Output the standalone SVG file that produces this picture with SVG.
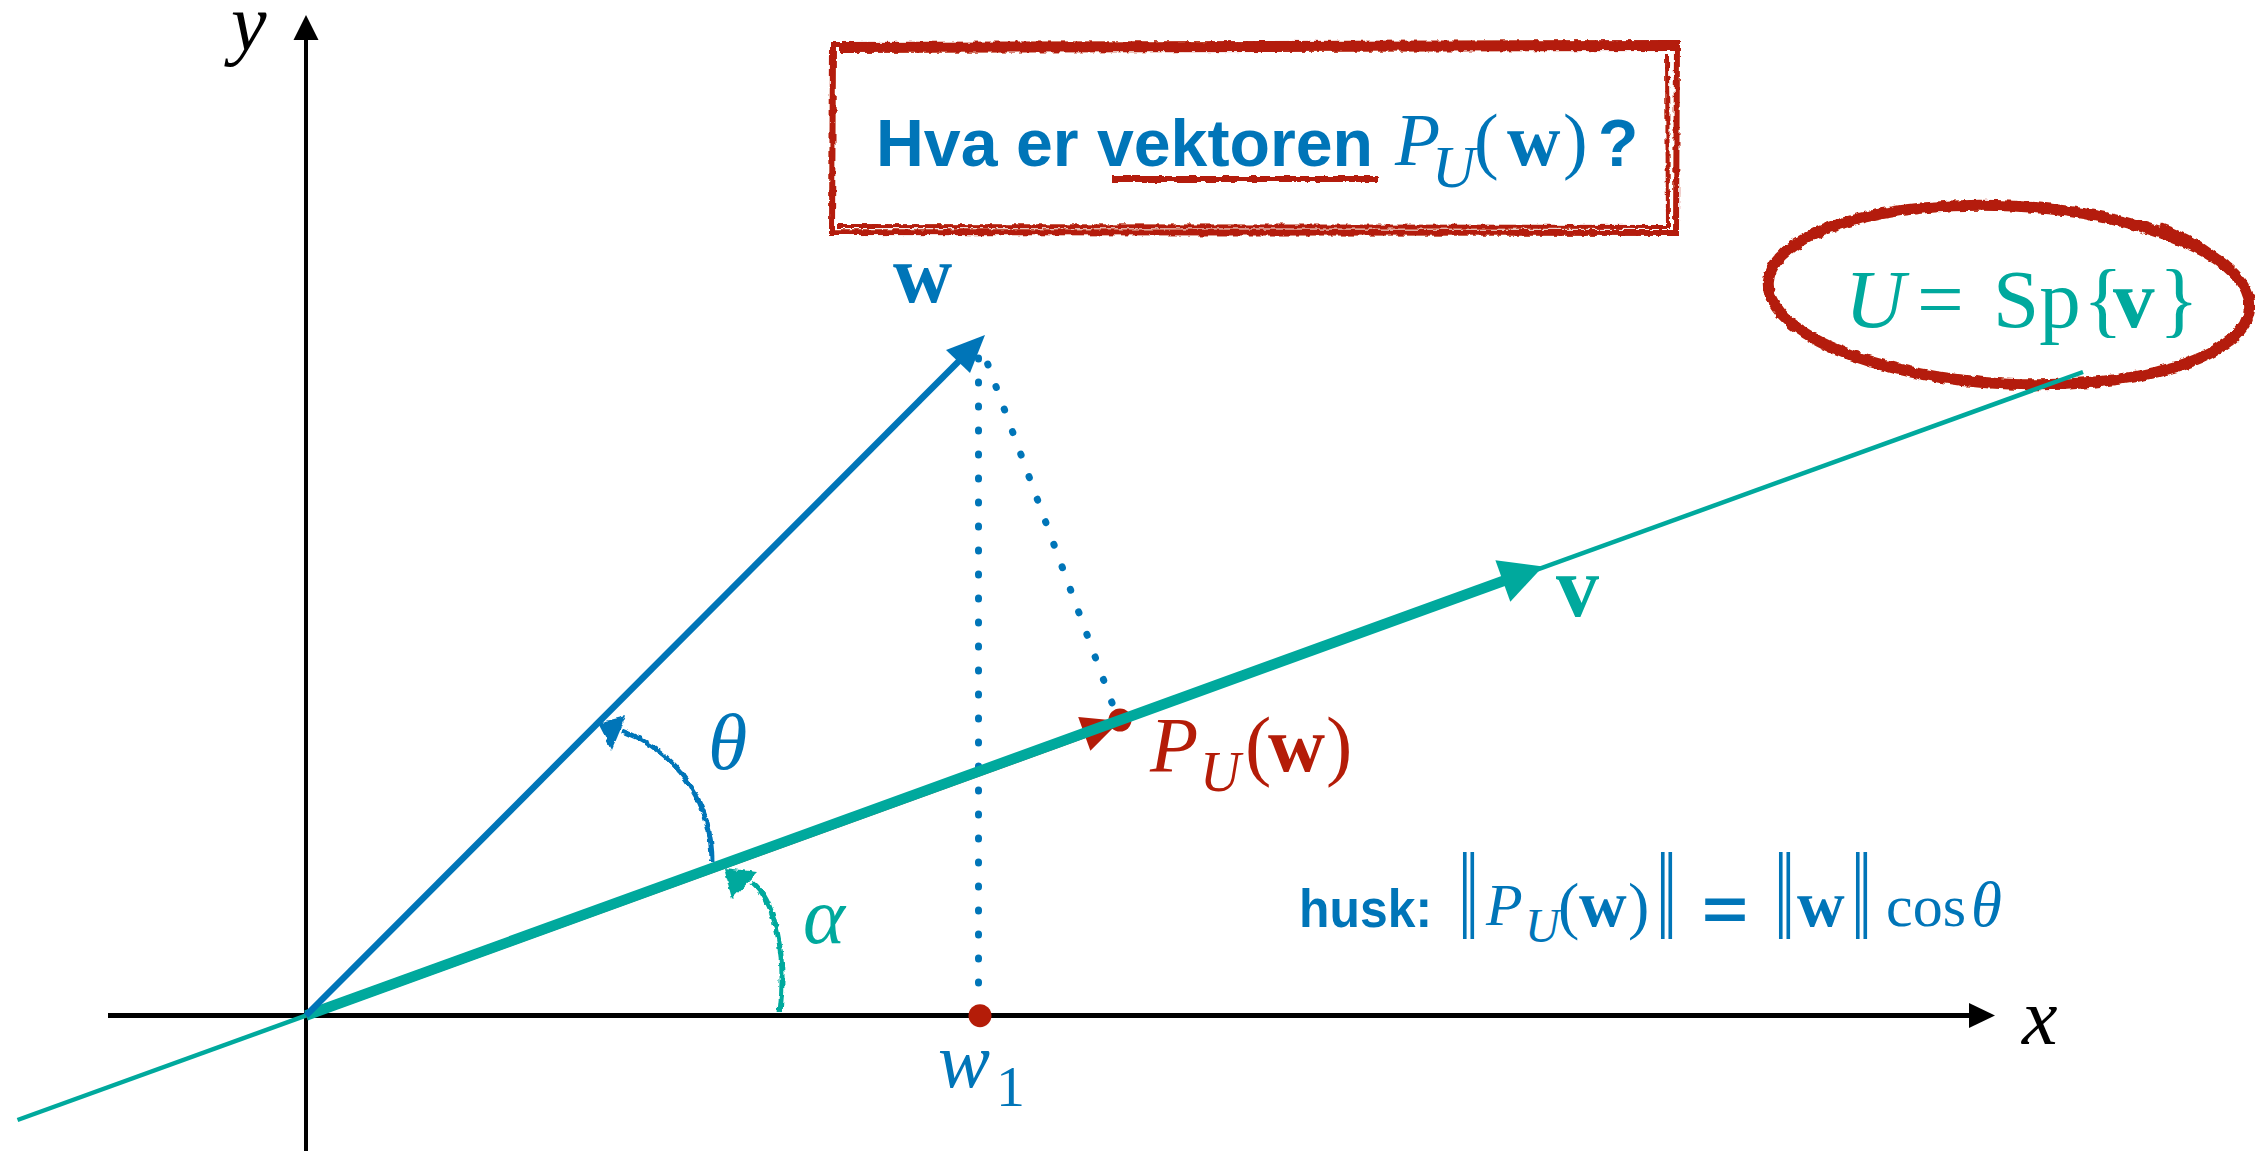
<svg xmlns="http://www.w3.org/2000/svg" width="2255" height="1151" viewBox="0 0 2255 1151">
<defs>
<filter id="rough" x="-10%" y="-10%" width="120%" height="120%">
<feTurbulence type="fractalNoise" baseFrequency="0.15" numOctaves="2" seed="4" result="n"/>
<feDisplacementMap in="SourceGraphic" in2="n" scale="5" xChannelSelector="R" yChannelSelector="G"/>
</filter>
</defs>
<style>
.serif{font-family:"Liberation Serif","Times New Roman","DejaVu Serif",serif}
.it{font-style:italic}
.bd{font-weight:bold}
.sans{font-family:"Liberation Sans",Arial,sans-serif;font-weight:bold}
.blue{fill:#0075b8}
.teal{fill:#00a99d}
.red{fill:#b41c08}
.dots{fill:none;stroke:#0075b8;stroke-width:7;stroke-linecap:round;stroke-dasharray:1 23}
.redline{fill:none;stroke:#b41c08}
</style>
<rect width="2255" height="1151" fill="#fff"/>

<g id="span-ellipse" filter="url(#rough)" class="redline">
<ellipse cx="2009" cy="295" rx="241" ry="89" transform="rotate(3 2009 295)" stroke-width="11"/>
<path d="M2160 226 Q2215 245 2236 280" stroke-width="6"/>
</g>

<g id="axes">
<g id="y-axis">
<line x1="306" y1="1151" x2="306" y2="38" stroke="#000" stroke-width="4"/>
<polygon points="306,15 293.5,40 318.5,40" fill="#000"/>
<text class="serif it" x="231" y="50" font-size="80">y</text>
</g>
<g id="x-axis">
<line x1="108" y1="1015.5" x2="1972" y2="1015.5" stroke="#000" stroke-width="5"/>
<polygon points="1995,1015.5 1969,1003 1969,1028" fill="#000"/>
<text class="serif it" x="2022" y="1044" font-size="80">x</text>
</g>
</g>

<g id="line-U">
<line x1="17.5" y1="1120" x2="2083" y2="372" stroke="#00a99d" stroke-width="4.5"/>
</g>

<g id="connectors">
<line class="dots" x1="978.5" y1="358" x2="978.5" y2="986"/>
<line class="dots" x1="987.7" y1="364" x2="1112.6" y2="704.5"/>
</g>

<g id="projection">
<line x1="306" y1="1015.5" x2="1084" y2="733.8" stroke="#b41c08" stroke-width="9"/>
<polygon points="1120,720.9 1078.2,716.9 1090.4,750.7" class="red"/>
<circle cx="1120" cy="720" r="11.5" class="red"/>
</g>

<g id="point-w1">
<circle cx="980" cy="1015.7" r="11.5" class="red"/>
</g>

<g id="vector-v">
<line x1="306" y1="1015.5" x2="1506" y2="580" stroke="#00a99d" stroke-width="10.5"/>
<polygon points="1543,566.5 1495.4,560.3 1510.3,601.7" class="teal"/>
</g>

<g id="vector-w">
<line x1="306" y1="1015.5" x2="962" y2="358" stroke="#0075b8" stroke-width="6.5"/>
<polygon points="985,335 946,350 970,373" class="blue"/>
</g>

<g id="angle-theta" filter="url(#rough)">
<path d="M712 862 C712 810 685 755 622 731" fill="none" stroke="#0075b8" stroke-width="5"/>
<polygon points="598,723 626,716 612,750" class="blue"/>
</g>

<g id="angle-alpha" filter="url(#rough)">
<path d="M780 1012 C787 955 775 900 752 882" fill="none" stroke="#00a99d" stroke-width="5"/>
<polygon points="724,868 758,872 732,899" class="teal"/>
</g>

<g id="labels">
<text class="serif bd blue" x="893" y="302" font-size="82">w</text>
<text class="serif bd teal" x="1556" y="616" font-size="86">v</text>
<text class="serif it blue" x="708" y="769" font-size="80">θ</text>
<text class="serif it teal" x="803" y="943" font-size="80">α</text>
<text class="serif blue" font-size="78"><tspan class="it" x="938" y="1087">w</tspan><tspan x="996" y="1106" font-size="58">1</tspan></text>
<text class="serif red" font-size="79"><tspan class="it" x="1150" y="771">P</tspan><tspan class="it" x="1200" y="791" font-size="56">U</tspan><tspan x="1245" y="771">(</tspan><tspan class="bd" x="1268" y="771">w</tspan><tspan x="1326" y="771">)</tspan></text>
<text class="serif teal" font-size="83"><tspan class="it" x="1845" y="327">U</tspan><tspan x="1917" y="327">=</tspan><tspan x="1993" y="327">Sp</tspan><tspan x="2083" y="327">{</tspan><tspan class="bd" x="2113" y="327">v</tspan><tspan x="2159" y="327">}</tspan></text>
</g>

<g id="title-box">
<g filter="url(#rough)" class="redline">
<path d="M833 45 L1677 43 L1676 233 L832 232 Z" stroke-width="6"/>
<path d="M840 48 L1678 46" stroke-width="10"/>
<path d="M1667 54 L1668 227" stroke-width="4"/>
<path d="M838 226 L1670 227" stroke-width="4"/>
<path d="M1112 179 L1378 179" stroke-width="6"/>
</g>
<text class="sans blue" x="876" y="166" font-size="66" textLength="497" lengthAdjust="spacingAndGlyphs">Hva er vektoren</text>
<text class="serif blue" font-size="74"><tspan class="it" x="1395" y="165">P</tspan><tspan class="it" x="1432" y="187" font-size="60">U</tspan><tspan x="1474" y="165">(</tspan><tspan class="bd" x="1507" y="165">w</tspan><tspan x="1563" y="165">)</tspan></text>
<text class="sans blue" x="1598" y="166" font-size="66">?</text>
</g>

<g id="formula">
<text class="sans blue" x="1299" y="927" font-size="53" textLength="133" lengthAdjust="spacingAndGlyphs">husk:</text>
<text class="serif blue" font-size="60" transform="translate(1458 939) scale(1.25 2.1)">‖</text>
<text class="serif blue" font-size="64"><tspan class="it" x="1486" y="925" font-size="60">P</tspan><tspan class="it" x="1525" y="942" font-size="48">U</tspan><tspan x="1558" y="927">(</tspan><tspan class="bd" x="1579" y="926" font-size="66">w</tspan><tspan x="1628" y="927">)</tspan></text>
<text class="serif blue" font-size="60" transform="translate(1656 939) scale(1.25 2.1)">‖</text>
<text class="sans blue" x="1702" y="929" font-size="60" textLength="46" lengthAdjust="spacingAndGlyphs">=</text>
<text class="serif blue" font-size="60" transform="translate(1774 939) scale(1.25 2.1)">‖</text>
<text class="serif bd blue" x="1797" y="926" font-size="66">w</text>
<text class="serif blue" font-size="60" transform="translate(1851 939) scale(1.25 2.1)">‖</text>
<text class="serif blue" font-size="60"><tspan x="1886" y="926">cos</tspan><tspan class="it" x="1971" y="926" font-size="63">θ</tspan></text>
</g>
</svg>
